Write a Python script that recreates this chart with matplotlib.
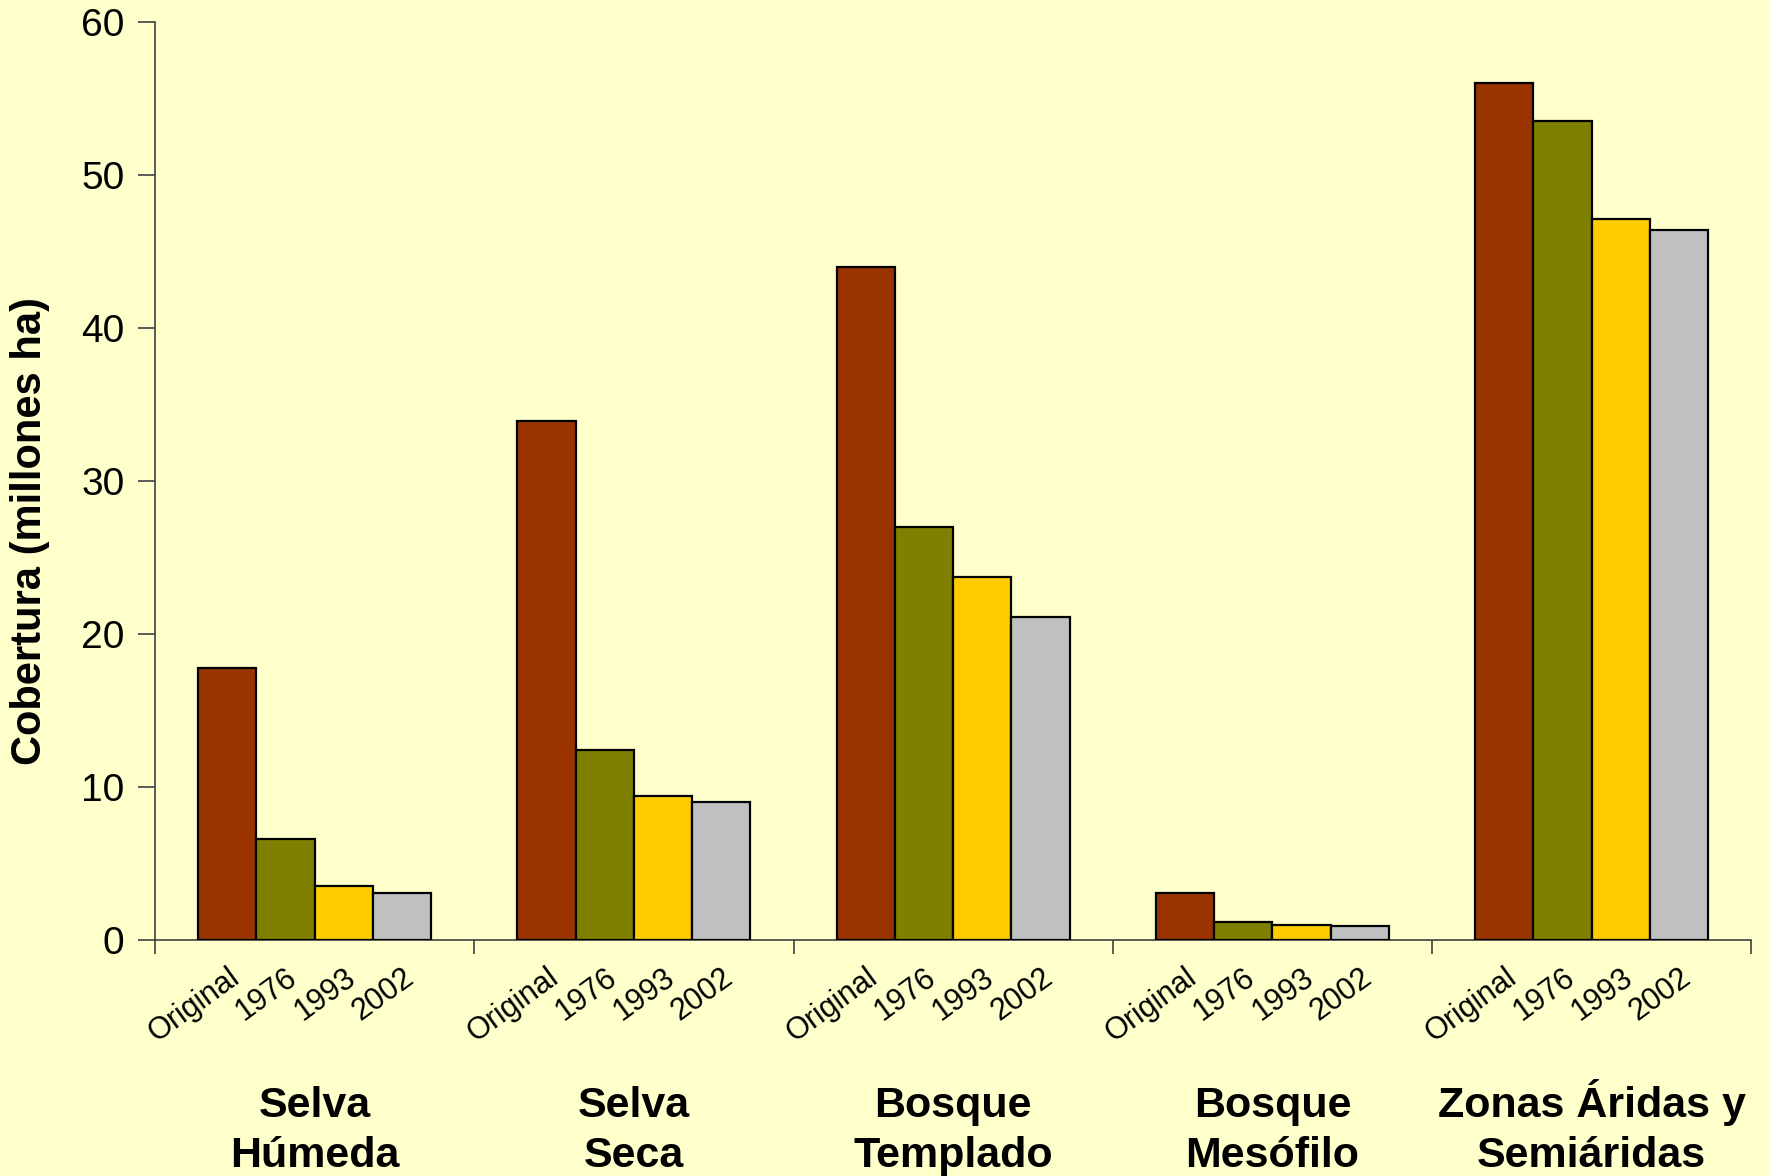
import matplotlib
matplotlib.use("Agg")
import matplotlib.pyplot as plt
import matplotlib.transforms as transforms
import numpy as np

grupos = ["Selva\nHúmeda", "Selva\nSeca", "Bosque\nTemplado",
          "Bosque\nMesófilo", "Zonas Áridas y\nSemiáridas"]
periodos = ["Original", "1976", "1993", "2002"]

original = [17.8, 33.9, 44.0, 3.1, 56.0]
c1976 = [6.6, 12.4, 27.0, 1.2, 53.5]
c1993 = [3.5, 9.4, 23.7, 1.0, 47.1]
c2002 = [3.1, 9.0, 21.1, 0.9, 46.4]

colores = ["#993300", "#808000", "#FFCC00", "#C0C0C0"]
fondo = "#FFFFCC"

plt.rcParams['font.family'] = ['Liberation Sans', 'DejaVu Sans']

fig = plt.figure(figsize=(17.69, 11.76), dpi=100, facecolor=fondo)
ax = fig.add_axes([0.0876, 0.2007, 0.9024, 0.7806], facecolor=fondo)

ancho = 0.1825
inicio = 0.135
x = np.arange(len(grupos))
series = [original, c1976, c1993, c2002]
centros = []
etiquetas = []
for i, valores in enumerate(series):
    pos = x + inicio + ancho * (i + 0.5)
    ax.bar(pos, valores, width=ancho, color=colores[i],
           edgecolor="black", linewidth=1.6, zorder=3)
    centros.extend(pos)
    etiquetas.extend([periodos[i]] * len(grupos))

ax.set_xlim(0, 5)
ax.set_ylim(0, 60)
ax.set_yticks(range(0, 61, 10))
ax.tick_params(axis="y", labelsize=28, length=12, width=1.2,
               color="#404040", pad=10)

# ticks at group boundaries, labels under each bar
ax.set_xticks(np.arange(0, 6))
ax.set_xticklabels([])
ax.tick_params(axis="x", which="major", length=10, width=1.2, color="#404040")
ax.set_xticks(centros, minor=True)
ax.set_xticklabels(etiquetas, minor=True, rotation=36, ha="right",
                   rotation_mode="anchor", fontsize=22)
ax.tick_params(axis="x", which="minor", length=0, pad=16)

for lado in ["top", "right"]:
    ax.spines[lado].set_visible(False)
for lado in ["left", "bottom"]:
    ax.spines[lado].set_color("#404040")
    ax.spines[lado].set_linewidth(1.2)

ax.set_ylabel("Cobertura (millones ha)", fontsize=30, fontweight="bold")
ax.yaxis.set_label_coords(-0.066, 0.446)

# group names under the year labels, two lines each
trans = transforms.blended_transform_factory(ax.transData, fig.transFigure)
for i, nombre in enumerate(grupos):
    ax.text(i + 0.5, 0.008, nombre, transform=trans, ha="center",
            va="baseline", fontsize=31, fontweight="bold", linespacing=1.32)

fig.savefig("out.png", dpi=100, facecolor=fondo)
